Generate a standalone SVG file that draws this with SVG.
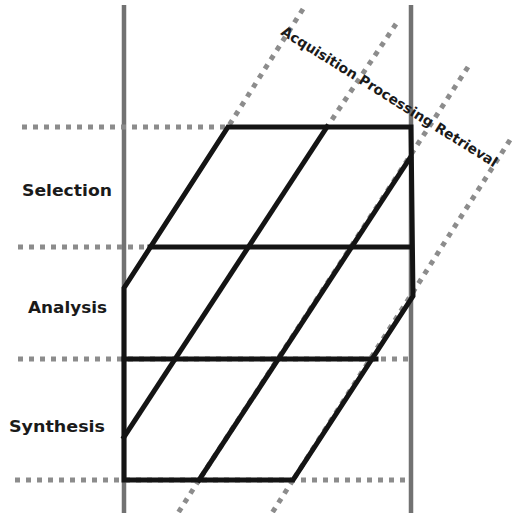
<svg xmlns="http://www.w3.org/2000/svg" width="513" height="513" viewBox="0 0 513 513">
<style>
.axis{stroke:#727272;stroke-width:4.5;fill:none}
.dot{stroke:#8c8c8c;stroke-width:5;stroke-dasharray:5 6;fill:none}
.bk{stroke:#141414;stroke-width:5;fill:none;stroke-linejoin:miter;stroke-linecap:square}
.lbl{font-family:"Comic Sans MS","DejaVu Sans",sans-serif;font-weight:bold;font-size:16px;fill:#1a1a1a}
.rot{font-family:"Comic Sans MS","DejaVu Sans",sans-serif;font-weight:bold;font-size:14px;fill:#1a1a1a}
</style>
<rect width="513" height="513" fill="#fff"/>
<g id="axes">
<line class="axis" x1="124" y1="5" x2="124" y2="513"/>
<line class="axis" x1="411" y1="5" x2="411" y2="513"/>
</g>
<g id="guides">
<line class="dot" x1="22" y1="127" x2="228" y2="127"/>
<line class="dot" x1="18" y1="247" x2="150" y2="247"/>
<line class="dot" x1="18" y1="359" x2="410" y2="359"/>
<line class="dot" x1="15" y1="480" x2="410" y2="480"/>
<line class="dot" x1="303" y1="9" x2="228" y2="127"/>
<line class="dot" x1="396" y1="24" x2="327" y2="127"/>
<line class="dot" x1="468" y1="67" x2="199" y2="480"/>
<line class="dot" x1="199" y1="480" x2="178" y2="513"/>
<line class="dot" x1="510" y1="140" x2="293" y2="480"/>
<line class="dot" x1="293" y1="480" x2="272" y2="513"/>
</g>
<g id="grid">
<polygon class="bk" points="228,127 411,127 413,296 293,480 124,480 124,288"/>
<line class="bk" x1="150" y1="247" x2="409" y2="247"/>
<line class="bk" x1="124" y1="359" x2="376" y2="359"/>
<line class="bk" x1="327" y1="127" x2="124" y2="437"/>
<line class="bk" x1="410" y1="158" x2="199" y2="480"/>
</g>
<g id="row-labels">
<text class="lbl" x="22" y="196" textLength="90" lengthAdjust="spacingAndGlyphs">Selection</text>
<text class="lbl" x="28" y="313" textLength="79" lengthAdjust="spacingAndGlyphs">Analysis</text>
<text class="lbl" x="9" y="432" textLength="96" lengthAdjust="spacingAndGlyphs">Synthesis</text>
</g>
<g id="column-label">
<text class="rot" transform="translate(280,34) rotate(32)" textLength="252" lengthAdjust="spacingAndGlyphs">Acquisition Processing Retrieval</text>
</g>
</svg>
